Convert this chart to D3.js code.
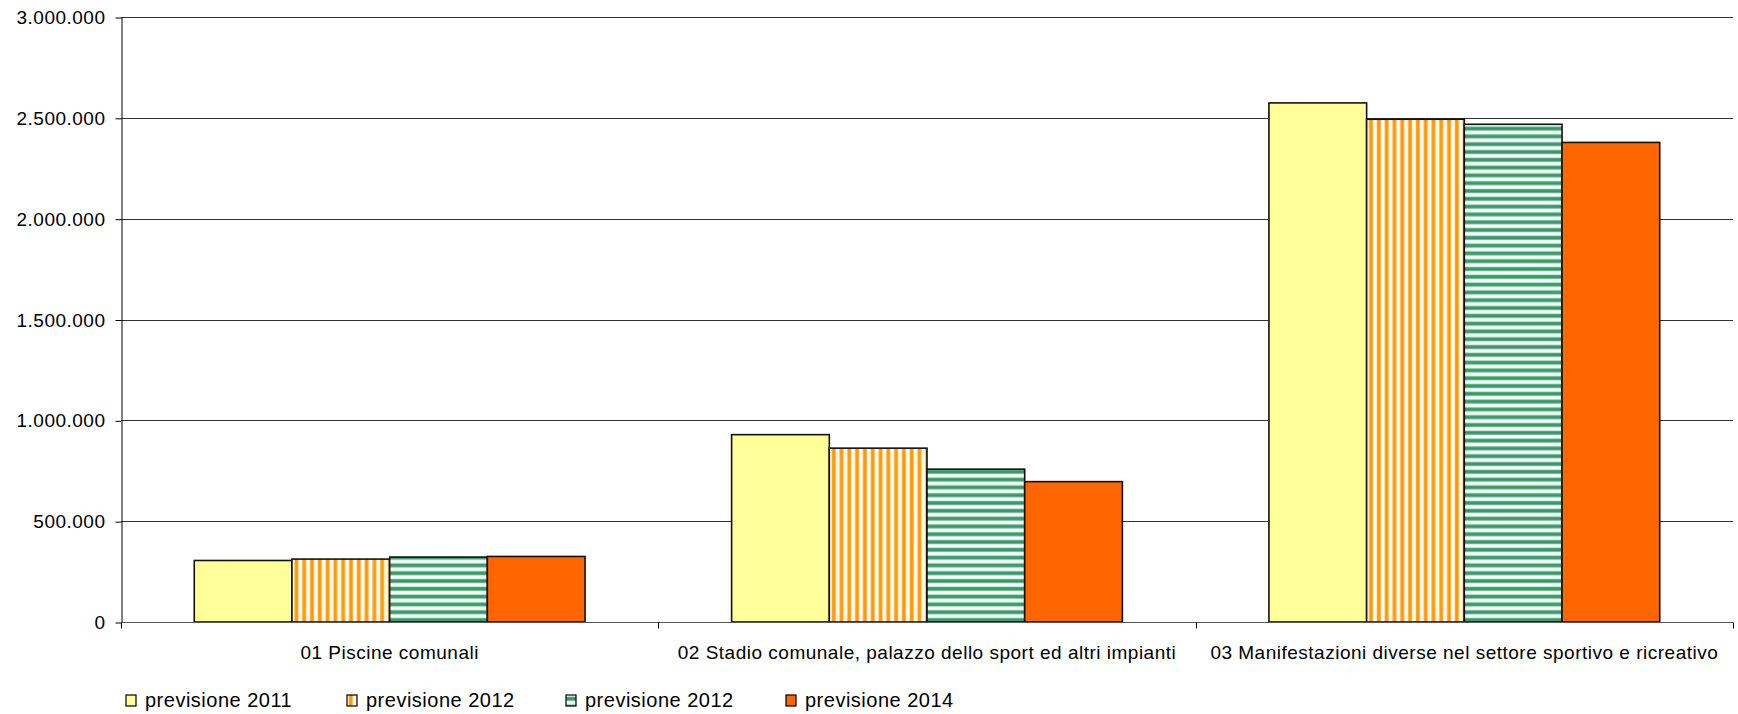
<!DOCTYPE html>
<html>
<head>
<meta charset="utf-8">
<script src="https://cdn.jsdelivr.net/npm/d3@7"></script>
<style>
  html, body { margin: 0; padding: 0; background: #fff; }
  svg { display: block; }
  text { font-family: "Liberation Sans", Arial, sans-serif; fill: #000; }
</style>
</head>
<body>
<svg id="chart" width="1738" height="714"></svg>
<script>
// ---- data ----
const categories = [
  "01 Piscine comunali",
  "02 Stadio comunale, palazzo dello sport ed altri impianti",
  "03 Manifestazioni diverse nel settore sportivo e ricreativo"
];
const seriesNames = ["previsione 2011", "previsione 2012", "previsione 2012", "previsione 2014"];
const values2011  = [305000, 929000, 2574000];
const values2012a = [312000, 862000, 2493000];
const values2012b = [322000, 758000, 2468000];
const values2014  = [325000, 696000, 2378000];
const yTicks = [0, 500000, 1000000, 1500000, 2000000, 2500000, 3000000];

(function () {
const seriesValues = [values2011, values2012a, values2012b, values2014];
const fills = ["#FFFF99", "url(#pVert)", "url(#pHoriz)", "#FF6600"];

const svg = d3.select("#chart");
const mLeft = 121, mRight = 1733, mTop = 17, mBottom = 622;

// patterns
const defs = svg.append("defs");
const pv = defs.append("pattern").attr("id", "pVert").attr("patternUnits", "userSpaceOnUse")
  .attr("width", 7.8).attr("height", 8);
pv.append("rect").attr("width", 7.8).attr("height", 8).attr("fill", "#fff");
pv.append("rect").attr("x", 1.4).attr("width", 4.8).attr("height", 8).attr("fill", "#FFD699");
pv.append("rect").attr("x", 2.2).attr("width", 3.2).attr("height", 8).attr("fill", "#FF9900");
const ph = defs.append("pattern").attr("id", "pHoriz").attr("patternUnits", "userSpaceOnUse")
  .attr("width", 8).attr("height", 7.8);
ph.append("rect").attr("width", 8).attr("height", 7.8).attr("fill", "#fff");
ph.append("rect").attr("y", 1.4).attr("width", 8).attr("height", 4.8).attr("fill", "#A8D4BC");
ph.append("rect").attr("y", 2.2).attr("width", 8).attr("height", 3.2).attr("fill", "#339966");

const fmt = d3.formatLocale({decimal: ",", thousands: ".", grouping: [3], currency: ["€", ""]}).format(",d");

const y = d3.scaleLinear().domain([0, 3000000]).range([mBottom, mTop]);
const x = d3.scaleBand().domain(categories).range([mLeft, mRight]).paddingInner(0).paddingOuter(0);
const xs = d3.scaleBand().domain(d3.range(seriesNames.length)).range([0, x.bandwidth()])
  .paddingInner(0).paddingOuter(0.75);

// gridlines
svg.append("g").selectAll("line").data(yTicks.filter(d => d > 0)).join("line")
  .attr("x1", mLeft).attr("x2", mRight)
  .attr("y1", d => Math.round(y(d)) + 0.5).attr("y2", d => Math.round(y(d)) + 0.5)
  .attr("stroke", "#333").attr("stroke-width", 1);

// y axis
const yAxis = svg.append("g").attr("transform", `translate(${mLeft + 0.5},0.5)`)
  .call(d3.axisLeft(y).tickValues(yTicks).tickFormat(fmt).tickSize(6).tickSizeOuter(0));
yAxis.select(".domain").attr("stroke", "#000");
yAxis.selectAll(".tick line").attr("stroke", "#000");
yAxis.selectAll(".tick text").attr("x", -16).attr("font-size", 19).attr("letter-spacing", 0.5)
  .style("font-family", "'Liberation Sans', Arial, sans-serif").attr("fill", "#000");

// bars
const groups = svg.append("g").selectAll("g").data(categories).join("g")
  .attr("transform", d => `translate(${x(d)},0)`);
groups.selectAll("rect").data((c, ci) => seriesValues.map((vals, si) => ({si, v: vals[ci]}))).join("rect")
  .attr("x", d => xs(d.si))
  .attr("y", d => y(d.v))
  .attr("width", xs.bandwidth())
  .attr("height", d => y(0) - y(d.v))
  .attr("fill", d => fills[d.si])
  .attr("stroke", "#111").attr("stroke-width", 1.6);

// x axis
const xAxisG = svg.append("g").attr("transform", `translate(0,${mBottom + 0.5})`);
xAxisG.append("line").attr("x1", mLeft).attr("x2", mRight).attr("stroke", "#555").attr("stroke-width", 1.2);
const bounds = categories.map(c => x(c)).concat([mRight]);
xAxisG.selectAll("line.tk").data(bounds).join("line").attr("class", "tk")
  .attr("x1", d => Math.round(d) + 0.5).attr("x2", d => Math.round(d) + 0.5)
  .attr("y1", 0).attr("y2", 6).attr("stroke", "#000");
xAxisG.selectAll("text").data(categories).join("text")
  .attr("x", d => x(d) + x.bandwidth() / 2)
  .attr("y", 36)
  .attr("text-anchor", "middle")
  .attr("font-size", 19).attr("letter-spacing", 0.5)
  .text(d => d);

// legend
const legendX = [126, 347, 566, 786];
const lg = svg.append("g").selectAll("g").data(seriesNames).join("g")
  .attr("transform", (d, i) => `translate(${legendX[i]},695)`);
lg.append("rect").attr("width", 10).attr("height", 11)
  .attr("fill", (d, i) => fills[i]).attr("stroke", "#000").attr("stroke-width", 1.2);
lg.append("text").attr("x", 19).attr("y", 11.5).attr("font-size", 20).attr("letter-spacing", 0.5)
  .text(d => d);
})();
</script>
</body>
</html>
